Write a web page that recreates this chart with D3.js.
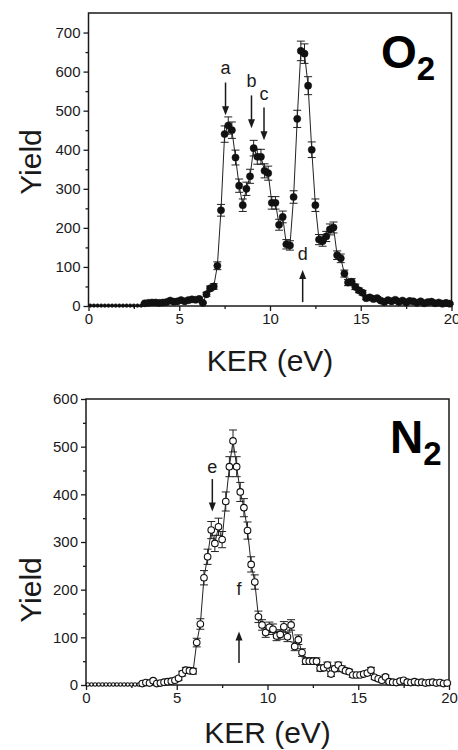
<!DOCTYPE html>
<meta charset="utf-8">
<style>
 body { margin: 0; background: #fff; }
 text { font-family: "Liberation Sans", Arial, Helvetica, sans-serif; fill: #1a1a1a; }
 .axis path { display: none; }
 .axis line { stroke: #1a1a1a; stroke-width: 1.3px; }
 .axis text { font-size: 15px; fill: #1a1a1a; }
</style>
<body>
<div id="chart"></div>
<script src="https://cdn.jsdelivr.net/npm/d3@7"></script>
<script>
// KER grid shared by both spectra (eV)
var kerEnergy = [
  0.1, 0.3, 0.5, 0.7, 0.9, 1.1, 1.3, 1.5, 1.7, 1.9, 2.1, 2.3, 2.5, 2.7, 2.9,
  3.1, 3.3, 3.5, 3.7, 3.9, 4.1, 4.3, 4.5, 4.7, 4.9, 5.1, 5.3, 5.5, 5.7, 5.9, 6.1, 6.3, 6.5, 6.7, 6.9,
  7.1, 7.3, 7.5, 7.7, 7.9, 8.1, 8.3, 8.5, 8.7, 8.9, 9.1, 9.3, 9.5, 9.7, 9.9, 10.1, 10.3, 10.5, 10.7, 10.9,
  11.1, 11.3, 11.5, 11.7, 11.9, 12.1, 12.3, 12.5, 12.7, 12.9, 13.1, 13.3, 13.5, 13.7, 13.9, 14.1, 14.3, 14.5, 14.7, 14.9,
  15.1, 15.3, 15.5, 15.7, 15.9, 16.1, 16.3, 16.5, 16.7, 16.9, 17.1, 17.3, 17.5, 17.7, 17.9, 18.1, 18.3, 18.5, 18.7, 18.9,
  19.1, 19.3, 19.5, 19.7, 19.9
];

var o2Yield = [
  1, 1, 1, 1, 1, 1, 1, 1, 1, 1, 1, 1, 1, 1, 1,
  7, 8, 9, 9, 8, 9, 10, 14, 11, 12, 15, 12, 15, 17, 16, 18, 8, 30, 45, 50,
  103, 245, 440, 462, 450, 380, 308, 258, 300, 332, 404, 382, 382, 346, 340, 264, 264, 208, 228, 158,
  155, 279, 479, 653, 646, 564, 400, 258, 170, 166, 178, 196, 201, 130, 122, 83, 60, 62, 49, 40,
  34, 20, 22, 18, 20, 14, 10, 15, 12, 16, 10, 14, 9, 13, 12, 8, 12, 7, 10, 11,
  7, 9, 6, 8, 6
];
var o2Error = [
  0, 0, 0, 0, 0, 0, 0, 0, 0, 0, 0, 0, 0, 0, 0,
  2, 2, 2, 2, 2, 2, 2, 3, 2, 3, 3, 3, 3, 3, 3, 3, 2, 5, 6, 7,
  10, 15, 21, 22, 21, 19, 17, 16, 17, 18, 20, 19, 19, 18, 18, 16, 16, 14, 15, 12,
  12, 16, 22, 25, 25, 23, 20, 16, 13, 13, 13, 14, 14, 11, 11, 9, 8, 8, 7, 6,
  6, 4, 5, 4, 4, 4, 3, 4, 3, 4, 3, 4, 3, 4, 3, 3, 3, 3, 3, 3,
  3, 3, 2, 3, 2
];

var n2Yield = [
  1, 1, 1, 1, 1, 1, 1, 1, 1, 1, 1, 1, 1, 1, 1,
  3, 5, 4, 9, 3, 4, 6, 7, 8, 10, 14, 24, 31, 30, 29, 89, 128, 225, 269, 325,
  297, 332, 305, 385, 458, 512, 458, 405, 372, 324, 253, 216, 143, 126, 110, 121, 117, 103, 106, 122,
  101, 126, 81, 95, 68, 50, 50, 50, 50, 35, 36, 42, 23, 34, 42, 34, 30, 28, 21, 21,
  21, 23, 25, 31, 16, 13, 10, 17, 7, 6, 5, 8, 10, 6, 5, 7, 5, 6, 4, 5,
  6, 4, 5, 3, 4
];
var n2Error = [
  0, 0, 0, 0, 0, 0, 0, 0, 0, 0, 0, 0, 0, 0, 0,
  1, 2, 2, 3, 1, 2, 2, 3, 3, 3, 4, 5, 6, 6, 6, 9, 11, 15, 16, 18,
  17, 18, 17, 20, 21, 23, 21, 20, 19, 18, 16, 15, 12, 11, 10, 11, 11, 10, 10, 11,
  10, 11, 9, 10, 8, 7, 7, 7, 7, 6, 6, 6, 5, 6, 6, 6, 5, 5, 5, 5,
  5, 5, 5, 6, 4, 4, 3, 4, 3, 2, 2, 3, 3, 2, 2, 3, 2, 2, 2, 2,
  2, 2, 2, 2, 2
];

var xMajorTicks = [0, 5, 10, 15, 20];
var xMinorTicks = [2.5, 7.5, 12.5, 17.5];
var o2YTicks = [0, 100, 200, 300, 400, 500, 600, 700];
var o2YMinor = [50, 150, 250, 350, 450, 550, 650];
var n2YTicks = [0, 100, 200, 300, 400, 500, 600];
var n2YMinor = [50, 150, 250, 350, 450, 550];

// arrows: x in eV, from/to and label height in yield units
var o2Arrows = [
  { label: "a", x: 7.55, from: 572, to: 488, labelAt: 609 },
  { label: "b", x: 8.98, from: 539, to: 455, labelAt: 577 },
  { label: "c", x: 9.67, from: 508, to: 424, labelAt: 544 },
  { label: "d", x: 11.8, from: 10, to: 92, labelAt: 135 }
];
var n2Arrows = [
  { label: "e", x: 6.96, from: 432, to: 364, labelAt: 458 },
  { label: "f", x: 8.43, from: 46, to: 112, labelAt: 203 }
];

var width = 458, height = 750;
var svg = d3.select("#chart").append("svg")
    .attr("width", width)
    .attr("height", height);

function drawPanel(p) {
  var x = d3.scaleLinear().domain([0, 20]).range([p.left, p.right]);
  var y = d3.scaleLinear().domain([0, p.yMax]).range([p.bottom, p.top]);
  var g = svg.append("g");

  var pts = kerEnergy.map(function(e, i) {
    return { e: e, v: p.values[i], err: p.errors[i] };
  });

  // axes (minor then major)
  g.append("g").attr("class", "axis")
    .attr("transform", "translate(0," + p.bottom + ")")
    .call(d3.axisBottom(x).tickValues(xMinorTicks).tickSize(3).tickFormat(""));
  g.append("g").attr("class", "axis")
    .attr("transform", "translate(0," + p.bottom + ")")
    .call(d3.axisBottom(x).tickValues(xMajorTicks).tickSize(5).tickPadding(2).tickFormat(d3.format("d")));
  g.append("g").attr("class", "axis")
    .attr("transform", "translate(" + p.left + ",0)")
    .call(d3.axisLeft(y).tickValues(p.yMinor).tickSize(3).tickFormat(""));
  g.append("g").attr("class", "axis")
    .attr("transform", "translate(" + p.left + ",0)")
    .call(d3.axisLeft(y).tickValues(p.yTicks).tickSize(5).tickPadding(3));

  g.append("rect")
    .attr("x", p.left).attr("y", p.top)
    .attr("width", p.right - p.left).attr("height", p.bottom - p.top)
    .attr("fill", "none").attr("stroke", "#1a1a1a").attr("stroke-width", 1.5);

  var line = d3.line().x(function(d) { return x(d.e); }).y(function(d) { return y(d.v); });
  g.append("path").datum(pts)
    .attr("d", line)
    .attr("fill", "none").attr("stroke", "#222").attr("stroke-width", 1);

  var bars = g.append("g").attr("stroke", "#222").attr("stroke-width", 1)
    .selectAll("g").data(pts.filter(function(d) { return d.err > 0; }))
    .enter().append("g");
  bars.append("line")
    .attr("x1", function(d) { return x(d.e); }).attr("x2", function(d) { return x(d.e); })
    .attr("y1", function(d) { return y(d.v - d.err); }).attr("y2", function(d) { return y(d.v + d.err); });
  [-1, 1].forEach(function(s) {
    bars.append("line")
      .attr("x1", function(d) { return x(d.e) - 4; }).attr("x2", function(d) { return x(d.e) + 4; })
      .attr("y1", function(d) { return y(d.v + s * d.err); }).attr("y2", function(d) { return y(d.v + s * d.err); });
  });

  g.append("g").selectAll("circle").data(pts)
    .enter().append("circle")
    .attr("cx", function(d) { return x(d.e); })
    .attr("cy", function(d) { return y(d.v); })
    .attr("r", function(d) { return d.e < 3 ? p.smallR : p.r; })
    .attr("fill", p.filled ? "#111" : "#fff")
    .attr("stroke", "#111")
    .attr("stroke-width", p.filled ? 0.5 : 1.1);

  // arrows
  p.arrows.forEach(function(a) {
    var ax = x(a.x), y0 = y(a.from), y1 = y(a.to);
    var dir = y1 > y0 ? 1 : -1;
    g.append("line")
      .attr("x1", ax).attr("x2", ax)
      .attr("y1", y0).attr("y2", y1 - dir * 6)
      .attr("stroke", "#1a1a1a").attr("stroke-width", 1.5);
    g.append("path")
      .attr("d", "M" + (ax - 3.5) + "," + (y1 - dir * 9) + "L" + (ax + 3.5) + "," + (y1 - dir * 9) + "L" + ax + "," + y1 + "Z")
      .attr("fill", "#1a1a1a");
    g.append("text")
      .attr("x", ax).attr("y", y(a.labelAt))
      .attr("dy", "0.35em")
      .attr("text-anchor", "middle")
      .style("font-size", "18px")
      .text(a.label);
  });

  // molecule label
  var mol = g.append("text")
    .attr("x", p.molX).attr("y", p.molY)
    .style("font-size", "46px").style("font-weight", "bold")
    .style("fill", "#000");
  mol.append("tspan").text(p.mol);
  mol.append("tspan").attr("dy", 12).style("font-size", "33px").text("2");

  // axis titles
  g.append("text")
    .attr("x", (p.left + p.right) / 2).attr("y", p.titleY)
    .attr("text-anchor", "middle")
    .style("font-size", "30px")
    .text("KER (eV)");
  g.append("text")
    .attr("transform", "translate(41," + p.yTitleY + ") rotate(-90)")
    .attr("text-anchor", "middle")
    .style("font-size", "30px")
    .text("Yield");
}

drawPanel({
  left: 88.5, right: 451.5, top: 13, bottom: 306, yMax: 750,
  values: o2Yield, errors: o2Error, yTicks: o2YTicks, yMinor: o2YMinor,
  filled: true, r: 3.6, smallR: 1.8, arrows: o2Arrows,
  mol: "O", molX: 381, molY: 68, titleY: 371, yTitleY: 162
});

drawPanel({
  left: 86, right: 449, top: 399, bottom: 685, yMax: 600,
  values: n2Yield, errors: n2Error, yTicks: n2YTicks, yMinor: n2YMinor,
  filled: false, r: 3.3, smallR: 1.7, arrows: n2Arrows,
  mol: "N", molX: 390, molY: 453, titleY: 743, yTitleY: 590
});
</script>
</body>
